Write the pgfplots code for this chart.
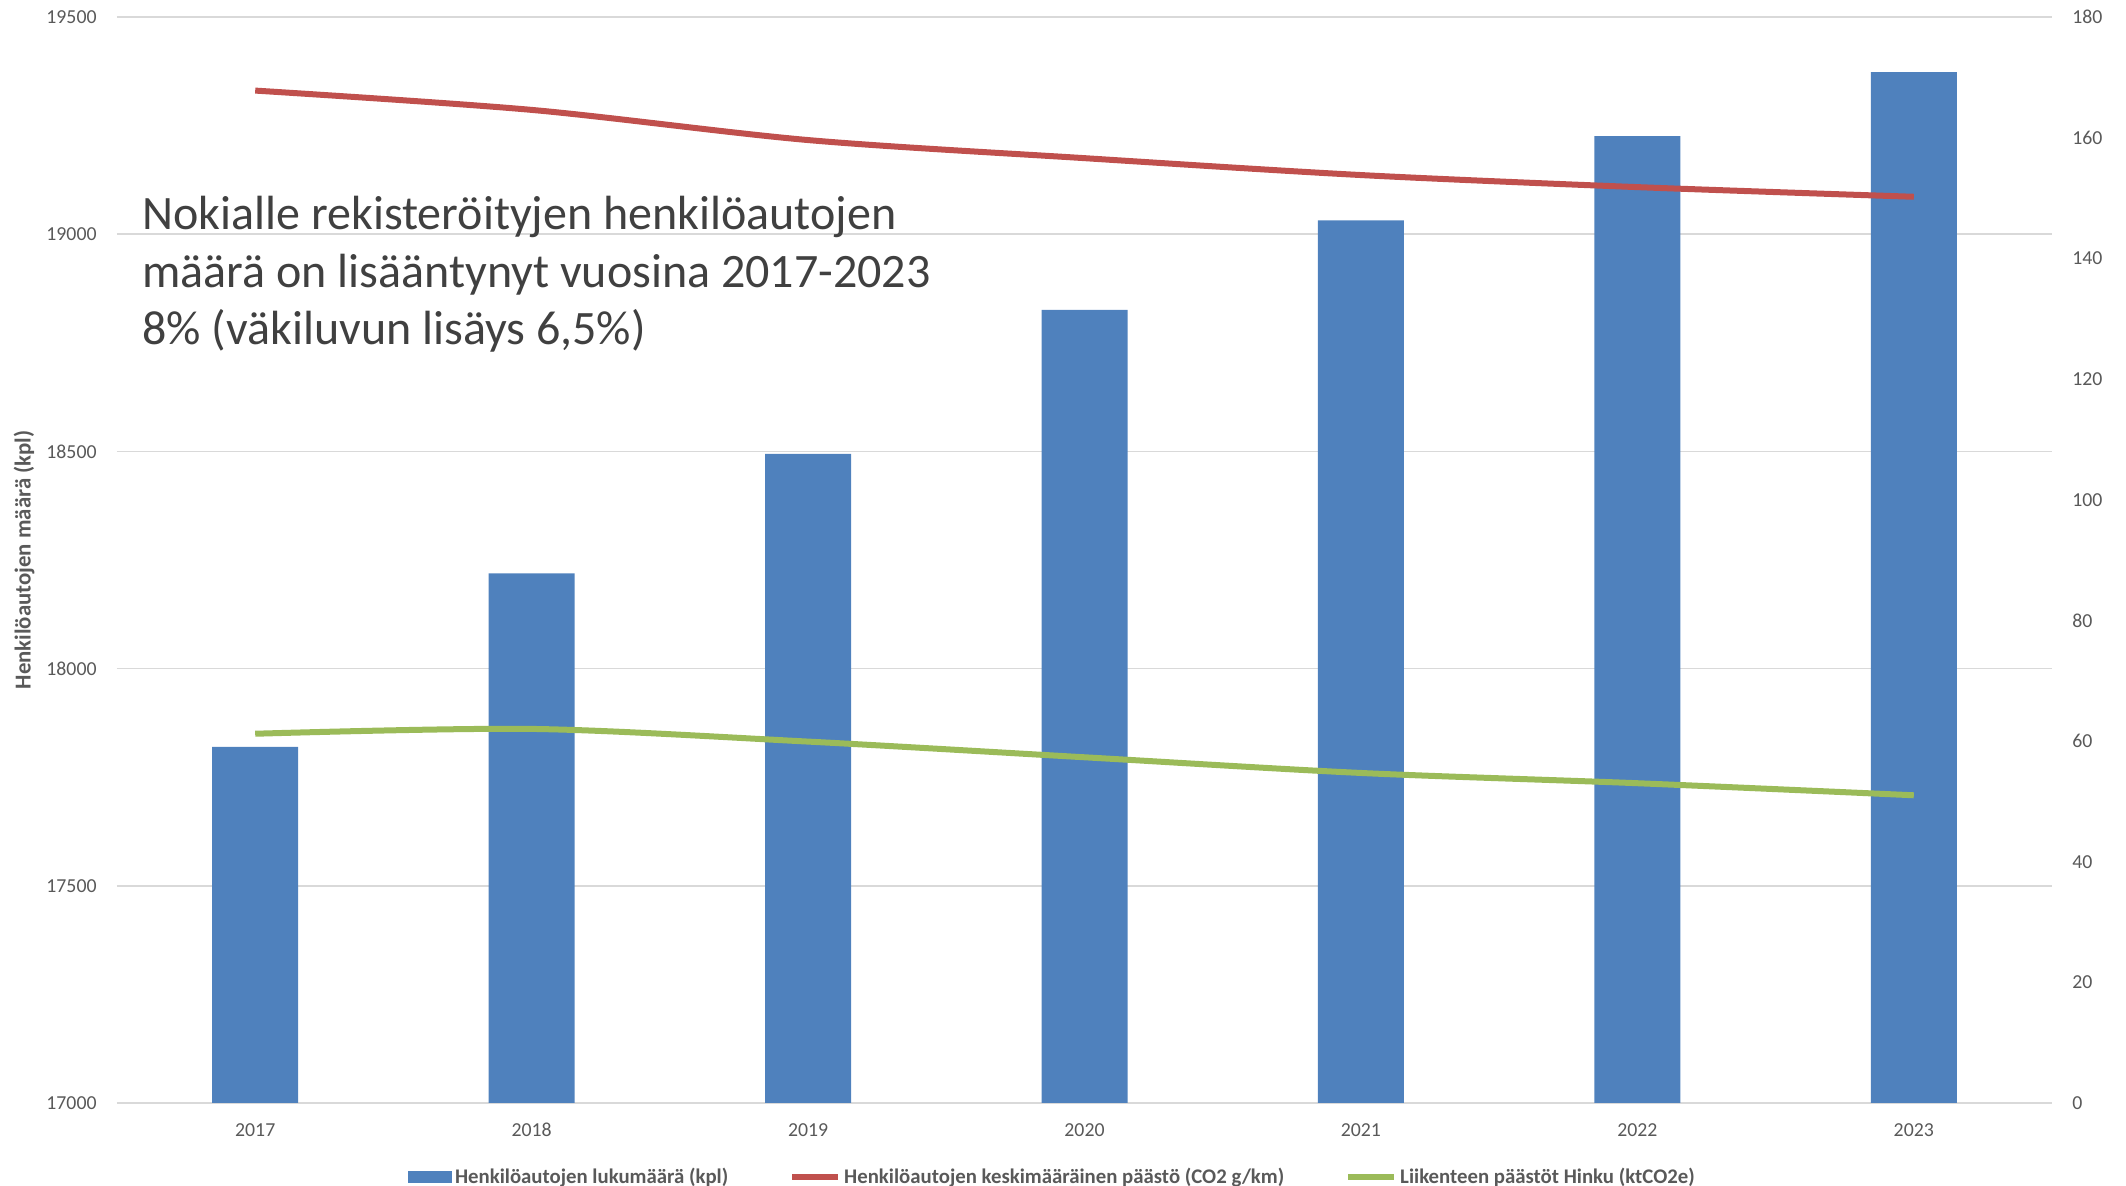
\documentclass[border=0pt]{standalone}
\usepackage{fontspec}
\setmainfont{Carlito}
\usepackage{pgfplots}
\pgfplotsset{compat=1.18}
\definecolor{barblue}{HTML}{4F81BD}
\definecolor{lred}{HTML}{C0504D}
\definecolor{lgreen}{HTML}{9BBB59}
\definecolor{gridc}{HTML}{D9D9D9}
\definecolor{tickc}{HTML}{595959}
\definecolor{annc}{HTML}{404040}
\begin{document}
\begin{tikzpicture}
\path[use as bounding box] (-58.5pt,-41.5pt) rectangle (1004.5pt,551.5pt);
\begin{axis}[
  at={(0,0)}, anchor=south west,
  width=967.5pt, height=543pt, scale only axis,
  xmin=-0.5, xmax=6.5, ymin=17000, ymax=19500,
  ytick={17000,17500,...,19500},
  scaled y ticks=false,
  xtick={0,1,2,3,4,5,6}, xticklabels={2017,2018,2019,2020,2021,2022,2023},
  ymajorgrids, grid style={gridc, line width=0.75pt},
  axis line style={draw=none}, major tick length=0pt,
  tick label style={font=\fontsize{9.9}{11}\selectfont, text=tickc, inner sep=0pt},
  yticklabel style={xshift=-10pt},
  xticklabel style={yshift=-10pt},
  /pgf/number format/assume math mode=true,
  /pgf/number format/1000 sep={},
]
\addplot[ybar, bar width=43pt, fill=barblue, draw=none] coordinates {
  (0,17820) (1,18219) (2,18494) (3,18826) (4,19032) (5,19226) (6,19373)};
\end{axis}
\begin{axis}[
  at={(0,0)}, anchor=south west,
  width=967.5pt, height=543pt, scale only axis,
  xmin=-0.5, xmax=6.5, ymin=0, ymax=180,
  ytick={0,20,...,180},
  axis y line*=right, hide x axis,
  axis line style={draw=none}, major tick length=0pt,
  tick label style={font=\fontsize{9.9}{11}\selectfont, text=tickc, inner sep=0pt},
  yticklabel style={xshift=10pt},
  /pgf/number format/assume math mode=true,
  legend columns=3,
  legend style={draw=none, fill=none, at={(0.4837,-0.068)}, anchor=center,
    font=\bfseries\fontsize{10.4}{12}\selectfont, text=tickc,
    /tikz/every even column/.append style={column sep=29pt},
    nodes={inner sep=1.5pt}},
  legend cell align=left,
]
\addlegendimage{legend image code/.code={\fill[barblue] (0pt,-2.75pt) rectangle (21.5pt,2.75pt);}}
\addlegendentry{Henkilöautojen lukumäärä (kpl)}
\addplot[lred, line width=3pt, smooth, no markers,
  legend image code/.code={\draw[lred, line width=3pt] (0pt,0pt) -- (23pt,0pt);}] coordinates {
  (0,167.8) (1,164.6) (2,159.6) (3,156.6) (4,153.8) (5,151.8) (6,150.2)};
\addlegendentry{Henkilöautojen keskimääräinen päästö (CO2 g/km)}
\addplot[lgreen, line width=3pt, smooth, no markers,
  legend image code/.code={\draw[lgreen, line width=3pt] (0pt,0pt) -- (23pt,0pt);}] coordinates {
  (0,61.2) (1,62.0) (2,59.9) (3,57.3) (4,54.7) (5,53.0) (6,51.0)};
\addlegendentry{Liikenteen päästöt Hinku (ktCO2e)}
\end{axis}
\node[rotate=90, font=\bfseries\fontsize{11.4}{13}\selectfont, text=tickc] at (-46.5pt,271.5pt) {Henkilöautojen määrä (kpl)};
\node[anchor=base west, inner sep=0pt, font=\fontsize{24}{28}\selectfont, text=annc] at (12.5pt,436.5pt) {Nokialle rekisteröityjen henkilöautojen};
\node[anchor=base west, inner sep=0pt, font=\fontsize{24}{28}\selectfont, text=annc] at (12.5pt,407.7pt) {määrä on lisääntynyt vuosina 2017-2023};
\node[anchor=base west, inner sep=0pt, font=\fontsize{24}{28}\selectfont, text=annc] at (12.5pt,379.2pt) {8\% (väkiluvun lisäys 6,5\%)};
\end{tikzpicture}
\end{document}
